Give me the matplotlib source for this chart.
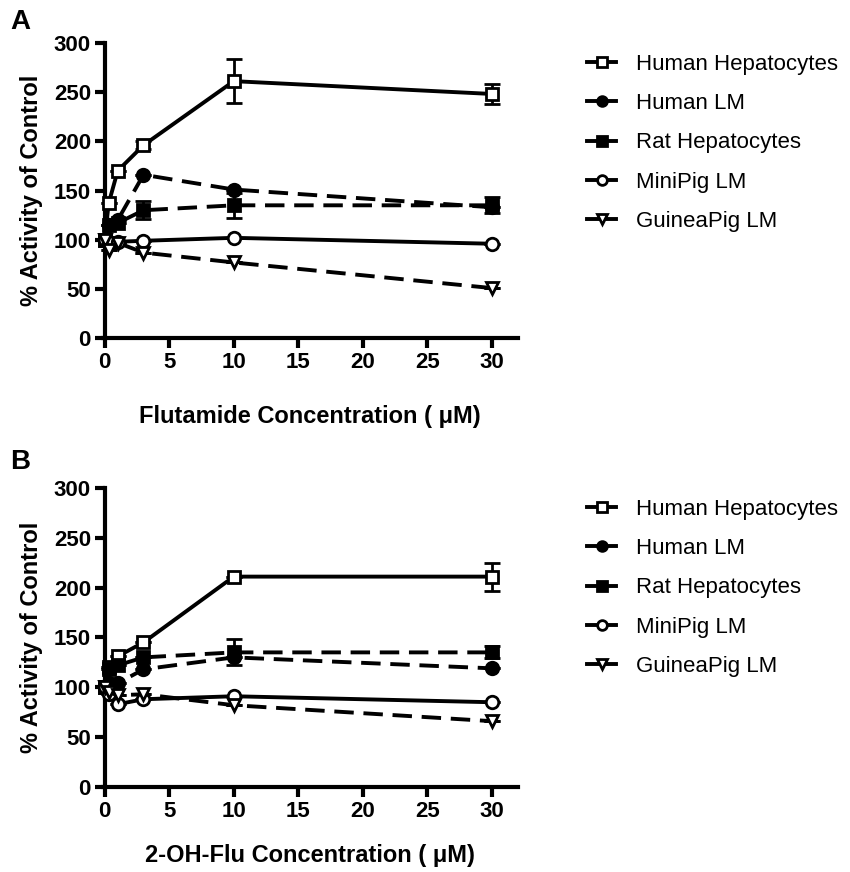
import matplotlib.pyplot as plt

plt.rcParams['font.family'] = ['Liberation Sans', 'DejaVu Sans']

conc = [0, 0.3, 1, 3, 10, 30]

series = ["Human Hepatocytes", "Human LM", "Rat Hepatocytes", "MiniPig LM", "GuineaPig LM"]

# panel A: flutamide
a_hh = [100, 137, 170, 196, 261, 248]
a_hh_err = [0, 0, 0, 4, 22, 10]
a_hlm = [100, 115, 120, 166, 151, 133]
a_hlm_err = [0, 0, 0, 0, 0, 0]
a_rh = [100, 115, 117, 130, 135, 135]
a_rh_err = [0, 0, 0, 9, 13, 8]
a_mp = [100, 98, 98, 99, 102, 96]
a_mp_err = [0, 0, 0, 0, 0, 0]
a_gp = [100, 90, 97, 87, 77, 51]
a_gp_err = [0, 0, 0, 0, 0, 0]

# panel B: 2-OH-Flu
b_hh = [100, 120, 131, 145, 211, 211]
b_hh_err = [0, 0, 0, 0, 0, 14]
b_hlm = [100, 104, 104, 118, 130, 119]
b_hlm_err = [0, 0, 0, 0, 0, 0]
b_rh = [100, 118, 122, 130, 135, 135]
b_rh_err = [0, 0, 0, 0, 13, 6]
b_mp = [100, 93, 83, 88, 91, 85]
b_mp_err = [0, 0, 0, 0, 0, 0]
b_gp = [100, 95, 92, 93, 82, 66]
b_gp_err = [0, 0, 0, 0, 0, 0]

styles = [
    dict(marker='s', mfc='white', ls='-'),
    dict(marker='o', mfc='black', ls='--'),
    dict(marker='s', mfc='black', ls='--'),
    dict(marker='o', mfc='white', ls='-'),
    dict(marker='v', mfc='white', ls='--'),
]

fig = plt.figure(figsize=(8.5, 8.72), dpi=100)
ax_a = fig.add_axes([0.121, 0.612, 0.488, 0.339])
ax_b = fig.add_axes([0.121, 0.0975, 0.488, 0.343])


def draw_panel(ax, data, errs, xlabel, letter, letter_y, xpad):
    handles = []
    for name, y, e, st in zip(series, data, errs, styles):
        line = ax.errorbar(conc, y, yerr=e, color='black', ecolor='black',
                           elinewidth=2, capsize=6, capthick=2, lw=2.8, zorder=3,
                           marker=st['marker'], mfc=st['mfc'], mec='black',
                           mew=2, ms=9, ls=st['ls'], clip_on=False)
        if st['ls'] == '--':
            line[0].set_dashes((5, 2.5))
        h, = ax.plot([], [], color='black', lw=2.8, marker=st['marker'],
                     mfc=st['mfc'], mec='black', mew=2, ms=7, ls='-')
        handles.append(h)
    ax.set_xlim(-0.15, 32)
    ax.set_ylim(0, 300)
    ax.set_xticks([0, 5, 10, 15, 20, 25, 30])
    ax.set_yticks([0, 50, 100, 150, 200, 250, 300])
    for s in ['top', 'right']:
        ax.spines[s].set_visible(False)
    for s in ['left', 'bottom']:
        ax.spines[s].set_linewidth(3)
    ax.spines['left'].set_position(('data', 0))
    ax.tick_params(width=3, length=7, labelsize=16, pad=3)
    for lab in ax.get_xticklabels() + ax.get_yticklabels():
        lab.set_fontweight('bold')
    ax.set_ylabel('% Activity of Control', fontsize=17, fontweight='bold', labelpad=8)
    ax.set_xlabel(xlabel, fontsize=17, fontweight='bold', labelpad=xpad)
    fig.text(0.012, letter_y, letter, fontsize=20, fontweight='bold',
             va='center', ha='left')
    ax.legend(handles, series, loc='upper left', bbox_to_anchor=(1.12, 1.03),
              frameon=False, fontsize=16, handlelength=1.3, labelspacing=0.82,
              handletextpad=0.9)


draw_panel(ax_a, [a_hh, a_hlm, a_rh, a_mp, a_gp],
           [a_hh_err, a_hlm_err, a_rh_err, a_mp_err, a_gp_err],
           'Flutamide Concentration ( \u03bcM)', 'A', 0.975, 23)
draw_panel(ax_b, [b_hh, b_hlm, b_rh, b_mp, b_gp],
           [b_hh_err, b_hlm_err, b_rh_err, b_mp_err, b_gp_err],
           '2-OH-Flu Concentration ( \u03bcM)', 'B', 0.47, 16)

fig.savefig('out.png', dpi=100)
